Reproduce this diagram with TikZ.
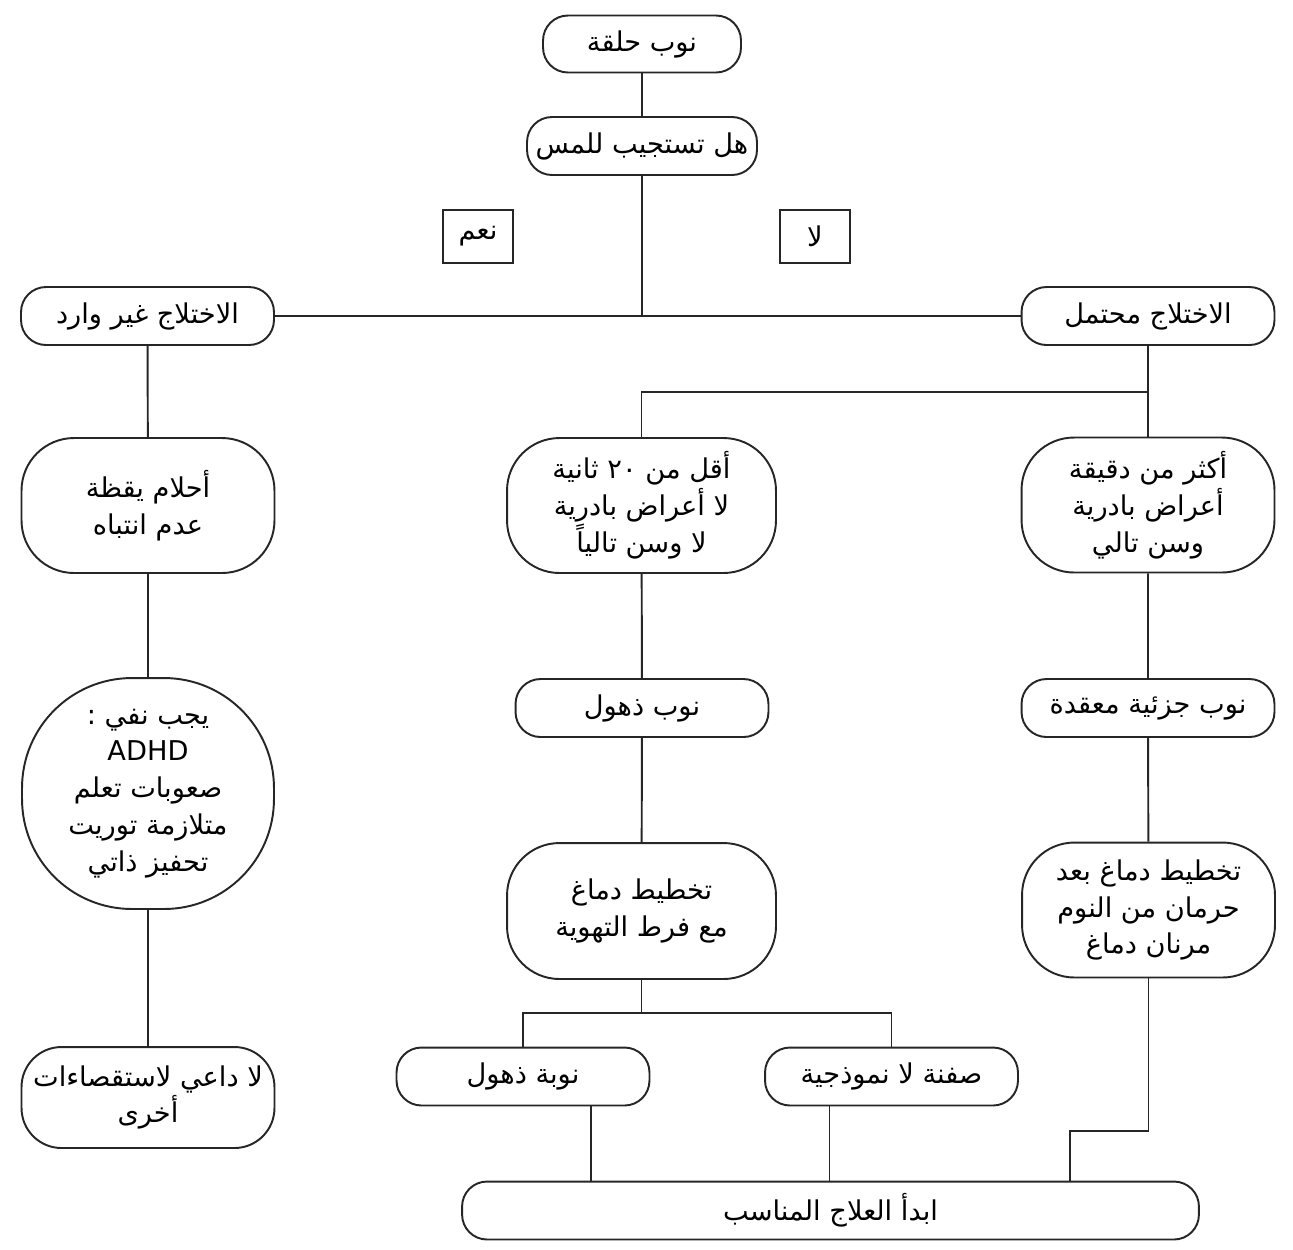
\documentclass[tikz,border=0pt]{standalone}
\usepackage{fontspec}
\setmainfont{DejaVu Sans}
\newfontfamily\arabicfont[Script=Arabic]{DejaVu Sans}
\TeXXeTstate=1
\usepackage{tikz}
\usetikzlibrary{positioning}

\newcommand{\artxt}[1]{\beginR #1\endR}

\begin{document}
\begin{tikzpicture}[
        x=0.02cm, y=-0.02cm,
        pill/.style={draw=black!85, line width=1.1pt, rounded corners=0.5cm, minimum height=1.16cm, minimum width=5.06cm, inner xsep=2pt, align=center, font=\arabicfont\fontsize{15.5}{21}\selectfont},
        tallbox/.style={pill, rounded corners=1.05cm, minimum height=2.7cm, minimum width=5.06cm},
        ovalbox/.style={pill, rounded corners=2.2cm, minimum height=4.62cm, minimum width=5.04cm},
        answer/.style={draw=black!85, line width=1.1pt, minimum height=1.06cm, minimum width=1.4cm, font=\arabicfont\fontsize{15.5}{21}\selectfont},
        link/.style={draw=black!85, line width=1.1pt}
    ]
        \useasboundingbox (0,0) rectangle (1293,1249);

        % Nodes
            \node[pill, minimum width=3.96cm, minimum height=1.14cm] (seizure) at (642,44) {\artxt{نوب حلقة}};
            \node[pill, minimum width=4.6cm] (touch) at (642,146) {\artxt{هل تستجيب للمس}};
            \node[answer] (yes) at (478,236.5) {\artxt{نعم}};
            \node[answer] (no) at (815,236.5) {\artxt{لا}};
            \node[pill] (unlikely) at (147.5,316) {\artxt{الاختلاج غير وارد}};
            \node[pill] (likely) at (1148,316) {\artxt{الاختلاج محتمل}};
            \node[tallbox] (daydream) at (148,505.5) {\artxt{أحلام يقظة}\\\artxt{عدم انتباه}};
            \node[tallbox, minimum width=5.38cm] (short) at (641.5,505.5) {\artxt{أقل من \beginL ٢٠\endL{} ثانية}\\\artxt{لا أعراض بادرية}\\\artxt{لا وسن تالياً}};
            \node[tallbox] (long) at (1148,505) {\artxt{أكثر من دقيقة}\\\artxt{أعراض بادرية}\\\artxt{وسن تالي}};
            \node[ovalbox] (exclude) at (148,793.5) {\artxt{يجب نفي :}\\ADHD\\\artxt{صعوبات تعلم}\\\artxt{متلازمة توريت}\\\artxt{تحفيز ذاتي}};
            \node[pill] (absence) at (642,708) {\artxt{نوب ذهول}};
            \node[pill] (partial) at (1148,708) {\artxt{نوب جزئية معقدة}};
            \node[tallbox, minimum width=5.38cm, minimum height=2.72cm] (eeg) at (641.5,911) {\artxt{تخطيط دماغ}\\\artxt{مع فرط التهوية}};
            \node[tallbox] (sleepeeg) at (1148.5,910) {\artxt{تخطيط دماغ بعد}\\\artxt{حرمان من النوم}\\\artxt{مرنان دماغ}};
            \node[tallbox, rounded corners=0.8cm, minimum height=2.02cm] (nomore) at (148,1097.5) {\artxt{لا داعي لاستقصاءات}\\\artxt{أخرى}};
            \node[pill] (absencefit) at (523,1076.5) {\artxt{نوبة ذهول}};
            \node[pill] (atypical) at (891.5,1076.5) {\artxt{صفنة لا نموذجية}};
            \node[pill, minimum width=14.74cm] (treat) at (830.5,1210.5) {\artxt{ابدأ العلاج المناسب}};

            \coordinate (fork) at (1148,392);
            \coordinate (split) at (641.5,1013);
            \coordinate (bend) at (1070,1131);

            % Connectors
            \draw[link] (seizure) -- (touch);
            \draw[link] (unlikely) -- (likely);
            \draw[link] (touch) -- (touch |- likely);
            \draw[link] (unlikely) -- (daydream) -- (exclude) -- (nomore);
            \draw[link] (likely) -- (long);
            \draw[link] (short) |- (fork);
            \draw[link] (short) -- (absence) -- (eeg);
            \draw[link] (long) -- (partial) -- (sleepeeg);
            \draw[link] (eeg) -- (split);
            \draw[link] (absencefit) |- (split) -| (atypical);
            \draw[link] ([xshift=1.36cm]absencefit.south) -- ([xshift=1.36cm]absencefit.south |- treat.north);
            \draw[link] ([xshift=-1.24cm]atypical.south) -- ([xshift=-1.24cm]atypical.south |- treat.north);
            \draw[link] (sleepeeg.south) |- (bend) -- (bend |- treat.north);
    \end{tikzpicture}
\end{document}
